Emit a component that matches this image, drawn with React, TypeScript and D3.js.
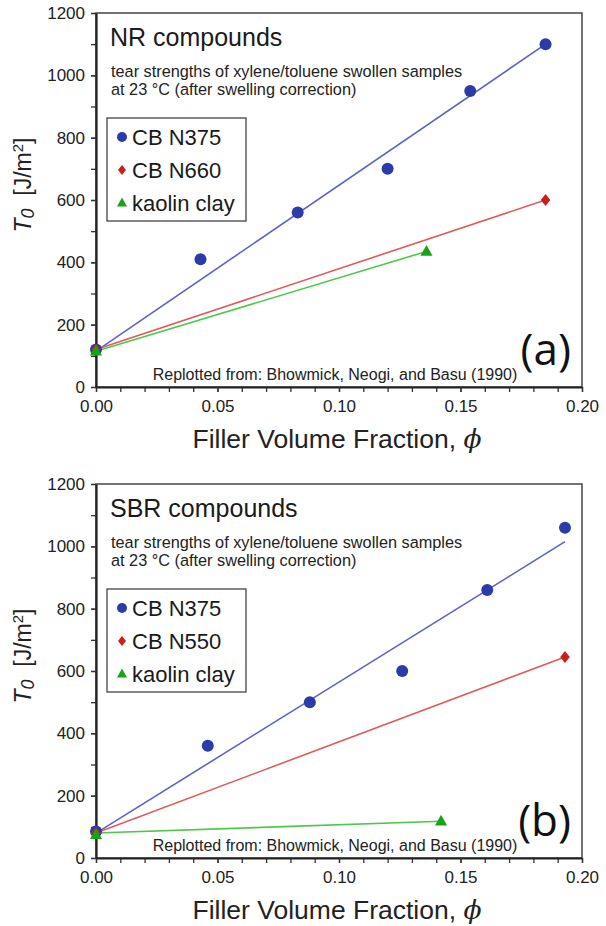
import React from 'react';
import * as d3 from 'd3';

const xTicks = [0, 0.05, 0.1, 0.15, 0.2];
const yTicks = [0, 200, 400, 600, 800, 1000, 1200];

// panel (a) NR compounds
const nrN375X = [0, 0.043, 0.083, 0.12, 0.154, 0.185];
const nrN375Y = [120, 410, 560, 700, 950, 1100];
const nrN375Fit = [[0, 115], [0.185, 1100]];
const nrN660X = [0, 0.185];
const nrN660Y = [120, 600];
const nrKaolinX = [0, 0.136];
const nrKaolinY = [115, 435];

// panel (b) SBR compounds
const sbrN375X = [0, 0.046, 0.088, 0.126, 0.161, 0.193];
const sbrN375Y = [85, 360, 500, 600, 860, 1060];
const sbrN375Fit = [[0, 80], [0.193, 1015]];
const sbrN550X = [0, 0.193];
const sbrN550Y = [80, 645];
const sbrKaolinX = [0, 0.142];
const sbrKaolinY = [75, 118];
const sbrKaolinFit = [[0, 80], [0.142, 118]];

const FONT = "Liberation Sans, Arial, Helvetica, sans-serif";
const BLUE = '#2b3ca8', BLUE_L = '#5b63c8';
const RED = '#c8201c', RED_L = '#e05a5a';
const GREEN = '#13a513', GREEN_L = '#4cc84c';

interface Series {
  label: string;
  x: number[];
  y: number[];
  fit: number[][];
  shape: 'circle' | 'diamond' | 'triangle';
  color: string;
  line: string;
}

interface PanelSpec {
  top: number;
  title: string;
  tag: string;
  series: Series[];
}

const drawMarker = (g: any, shape: string, cx: number, cy: number, color: string, s: number) => {
  if (shape === 'circle') {
    g.append('circle').attr('cx', cx).attr('cy', cy).attr('r', s).attr('fill', color);
  } else if (shape === 'diamond') {
    g.append('path')
      .attr('d', `M${cx},${cy - s}L${cx + s * 0.8},${cy}L${cx},${cy + s}L${cx - s * 0.8},${cy}Z`)
      .attr('fill', color);
  } else {
    const h = s * 1.8;
    g.append('path')
      .attr('d', `M${cx},${cy - h * 0.6}L${cx + s},${cy + h * 0.4}L${cx - s},${cy + h * 0.4}Z`)
      .attr('fill', color);
  }
};

const drawPanel = (svg: any, p: PanelSpec) => {
  const left = 96, right = 582;
  const top = p.top, bottom = p.top + 374;

  const x = d3.scaleLinear().domain([0, 0.2]).range([left, right]);
  const y = d3.scaleLinear().domain([0, 1200]).range([bottom, top]);

  const g = svg.append('g');

  // frame
  g.append('rect')
    .attr('x', left).attr('y', top)
    .attr('width', right - left).attr('height', bottom - top)
    .attr('fill', 'none').attr('stroke', '#444').attr('stroke-width', 1.5);

  // minor ticks
  const minorX = d3.range(0, 0.2001, 0.01);
  const minorY = d3.range(0, 1201, 100);
  g.append('g')
    .attr('transform', `translate(0,${bottom})`)
    .call(d3.axisBottom(x).tickValues(minorX).tickSize(5).tickSizeOuter(0).tickFormat(() => ''))
    .call((a: any) => a.select('.domain').remove())
    .selectAll('line').attr('stroke', '#333').attr('stroke-width', 1.3);
  g.append('g')
    .attr('transform', `translate(${left},0)`)
    .call(d3.axisLeft(y).tickValues(minorY).tickSize(5).tickSizeOuter(0).tickFormat(() => ''))
    .call((a: any) => a.select('.domain').remove())
    .selectAll('line').attr('stroke', '#333').attr('stroke-width', 1.3);

  // major axes
  const xa = g.append('g')
    .attr('transform', `translate(0,${bottom})`)
    .call(d3.axisBottom(x).tickValues(xTicks).tickSize(5).tickSizeOuter(0).tickPadding(8).tickFormat(d3.format('.2f')));
  xa.attr('font-family', FONT);
  xa.select('.domain').attr('stroke', '#222').attr('stroke-width', 2.2);
  xa.selectAll('line').attr('stroke', '#333').attr('stroke-width', 1.3);
  xa.selectAll('text').attr('font-size', 17).attr('fill', '#222');

  const ya = g.append('g')
    .attr('transform', `translate(${left},0)`)
    .call(d3.axisLeft(y).tickValues(yTicks).tickSize(5).tickSizeOuter(0).tickPadding(6).tickFormat(d3.format('d')));
  ya.attr('font-family', FONT);
  ya.select('.domain').attr('stroke', '#222').attr('stroke-width', 2.2);
  ya.selectAll('line').attr('stroke', '#333').attr('stroke-width', 1.3);
  ya.selectAll('text').attr('font-size', 17).attr('fill', '#222');

  // axis titles
  const xt = g.append('text')
    .attr('x', (left + right) / 2 - 2).attr('y', bottom + 61)
    .attr('text-anchor', 'middle')
    .attr('font-family', FONT).attr('font-size', 26.5).attr('fill', '#222');
  xt.append('tspan').text('Filler Volume Fraction, ');
  xt.append('tspan').attr('font-family', "DejaVu Serif, serif").attr('font-style', 'italic').text('\u03D5');

  const yt = g.append('text')
    .attr('transform', `translate(31,${(top + bottom) / 2 - 15}) rotate(-90)`)
    .attr('text-anchor', 'middle')
    .attr('font-family', FONT).attr('font-size', 23).attr('fill', '#222');
  yt.append('tspan').attr('font-style', 'italic').text('T');
  yt.append('tspan').attr('font-style', 'italic').attr('font-size', 18).attr('dy', 3).text('0');
  yt.append('tspan').attr('dy', -3).text('\u00A0\u00A0[J/m');
  yt.append('tspan').attr('font-size', 15).attr('dy', -8).text('2');
  yt.append('tspan').attr('dy', 8).text(']');

  // titles inside
  g.append('text')
    .attr('x', left + 14).attr('y', top + 33)
    .attr('font-family', FONT).attr('font-size', 25).attr('fill', '#1a1a1a')
    .text(p.title);
  g.append('text')
    .attr('x', left + 15).attr('y', top + 64)
    .attr('font-family', FONT).attr('font-size', 16.3).attr('fill', '#222')
    .text('tear strengths of xylene/toluene swollen samples');
  g.append('text')
    .attr('x', left + 15).attr('y', top + 82)
    .attr('font-family', FONT).attr('font-size', 16.3).attr('fill', '#222')
    .text('at 23 \u00B0C (after swelling correction)');

  g.append('text')
    .attr('x', (left + right) / 2 - 4).attr('y', bottom - 7)
    .attr('text-anchor', 'middle')
    .attr('font-family', FONT).attr('font-size', 16).attr('fill', '#222')
    .text('Replotted from: Bhowmick, Neogi, and Basu (1990)');

  g.append('text')
    .attr('x', right - 11).attr('y', bottom - 22)
    .attr('text-anchor', 'end')
    .attr('font-family', "Open Sans, Noto Sans, sans-serif").attr('font-size', 44).attr('fill', '#111')
    .text(p.tag);

  // lines
  const line = d3.line<number[]>().x(d => x(d[0])).y(d => y(d[1]));
  p.series.forEach(s => {
    g.append('path')
      .attr('d', line(s.fit))
      .attr('fill', 'none').attr('stroke', s.line).attr('stroke-width', 1.6);
  });
  // markers
  p.series.forEach(s => {
    s.x.forEach((xv, i) => drawMarker(g, s.shape, x(xv), y(s.y[i]), s.color, 6));
  });

  // legend
  const lg = g.append('g');
  lg.append('rect')
    .attr('x', left + 11).attr('y', top + 105)
    .attr('width', 139).attr('height', 103)
    .attr('fill', '#fff').attr('stroke', '#444').attr('stroke-width', 1.3);
  p.series.forEach((s, i) => {
    const cy = top + 124 + i * 33;
    drawMarker(lg, s.shape, left + 26, cy, s.color, 5);
    lg.append('text')
      .attr('x', left + 36).attr('y', cy + 8)
      .attr('font-family', FONT).attr('font-size', 22).attr('fill', '#1a1a1a')
      .text(s.label);
  });
};

const panels: PanelSpec[] = [
  {
    top: 13, title: 'NR compounds', tag: '(a)',
    series: [
      { label: 'CB N375', x: nrN375X, y: nrN375Y, fit: nrN375Fit, shape: 'circle', color: BLUE, line: BLUE_L },
      { label: 'CB N660', x: nrN660X, y: nrN660Y, fit: nrN660X.map((v, i) => [v, nrN660Y[i]]), shape: 'diamond', color: RED, line: RED_L },
      { label: 'kaolin clay', x: nrKaolinX, y: nrKaolinY, fit: nrKaolinX.map((v, i) => [v, nrKaolinY[i]]), shape: 'triangle', color: GREEN, line: GREEN_L },
    ],
  },
  {
    top: 484, title: 'SBR compounds', tag: '(b)',
    series: [
      { label: 'CB N375', x: sbrN375X, y: sbrN375Y, fit: sbrN375Fit, shape: 'circle', color: BLUE, line: BLUE_L },
      { label: 'CB N550', x: sbrN550X, y: sbrN550Y, fit: sbrN550X.map((v, i) => [v, sbrN550Y[i]]), shape: 'diamond', color: RED, line: RED_L },
      { label: 'kaolin clay', x: sbrKaolinX, y: sbrKaolinY, fit: sbrKaolinFit, shape: 'triangle', color: GREEN, line: GREEN_L },
    ],
  },
];

const App: React.FC = () => {
  const svgRef = React.useRef<SVGSVGElement>(null);

  React.useEffect(() => {
    if (!svgRef.current) return;
    const svg = d3.select(svgRef.current);
    svg.selectAll('*').remove();
    svg.append('rect').attr('width', 606).attr('height', 926).attr('fill', '#fff');
    panels.forEach(p => drawPanel(svg, p));
  }, []);

  return (
    <svg ref={svgRef} width={606} height={926} viewBox="0 0 606 926"
      style={{ position: 'absolute', left: 0, top: 0, display: 'block' }} />
  );
};

export default App;
